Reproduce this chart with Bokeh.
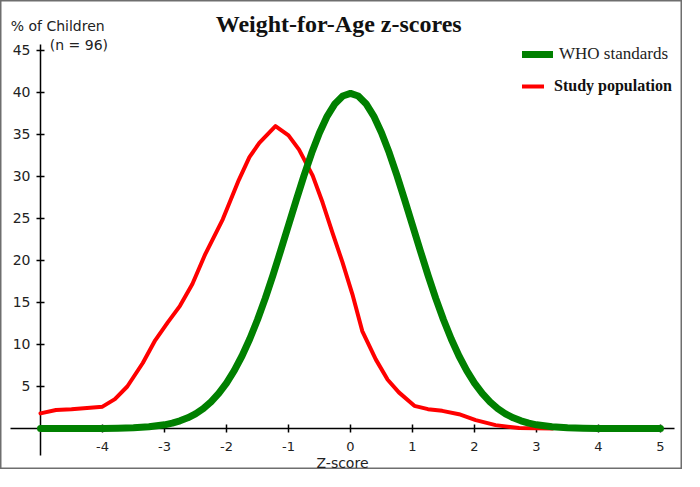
from bokeh.plotting import figure
from bokeh.models import Range1d, LinearAxis, FixedTicker, Label, Legend, LegendItem
from bokeh.embed import file_html
from bokeh.resources import INLINE

# ---- data ----
who_z = [-5.0, -4.5, -4.0, -3.75, -3.5, -3.25, -3.0, -2.875, -2.75, -2.625, -2.5,
         -2.375, -2.25, -2.125, -2.0, -1.875, -1.75, -1.625, -1.5, -1.375, -1.25,
         -1.125, -1.0, -0.875, -0.75, -0.625, -0.5, -0.375, -0.25, -0.125, 0.0,
         0.125, 0.25, 0.375, 0.5, 0.625, 0.75, 0.875, 1.0, 1.125, 1.25, 1.375, 1.5,
         1.625, 1.75, 1.875, 2.0, 2.125, 2.25, 2.375, 2.5, 2.625, 2.75, 2.875, 3.0,
         3.25, 3.5, 3.75, 4.0, 4.5, 5.0]
who_pct = [0.0, 0.0, 0.01, 0.04, 0.09, 0.2, 0.44, 0.64, 0.91, 1.27, 1.75,
           2.37, 3.17, 4.17, 5.4, 6.88, 8.63, 10.66, 12.95, 15.49, 18.26,
           21.2, 24.2, 27.19, 30.11, 32.82, 35.21, 37.19, 38.67, 39.58, 39.89,
           39.58, 38.67, 37.19, 35.21, 32.82, 30.11, 27.19, 24.2, 21.2, 18.26, 15.49, 12.95,
           10.66, 8.63, 6.88, 5.4, 4.17, 3.17, 2.37, 1.75, 1.27, 0.91, 0.64, 0.44,
           0.2, 0.09, 0.04, 0.01, 0.0, 0.0]

study_z = [-5.0, -4.75, -4.5, -4.0, -3.8, -3.6, -3.35, -3.15, -2.95, -2.75, -2.55,
           -2.34, -2.06, -1.8, -1.63, -1.47, -1.21, -1.0, -0.83, -0.61, -0.45, -0.29,
           -0.13, 0.03, 0.19, 0.41, 0.6, 0.78, 1.03, 1.25, 1.48, 1.75, 2.02, 2.34,
           2.72, 3.26]
study_pct = [1.8, 2.2, 2.3, 2.6, 3.5, 5.0, 7.8, 10.5, 12.6, 14.6, 17.2,
             20.8, 24.9, 29.6, 32.3, 34.0, 36.0, 34.9, 33.2, 30.1, 26.9, 23.3,
             19.8, 16.0, 11.6, 8.2, 5.8, 4.3, 2.7, 2.3, 2.1, 1.7, 1.0, 0.4,
             0.05, 0.0]

x_ticks = [-4, -3, -2, -1, 0, 1, 2, 3, 4, 5]
x_tick_labels = ["-4", "-3", "-2", "-1", "0", "1", "2", "3", "4", "5"]
y_ticks = [5, 10, 15, 20, 25, 30, 35, 40, 45]
y_tick_labels = ["5", "10", "15", "20", "25", "30", "35", "40", "45"]

title_text = "Weight-for-Age z-scores"
y_label_1 = "% of Children"
y_label_2 = "(n = 96)"
x_label = "Z-score"
series_names = ["WHO standards", "Study population"]

SANS = "DejaVu Sans"
SERIF = "Liberation Serif"

W, H = 682, 469
p = figure(width=W, height=H, output_backend="svg", toolbar_location=None,
           x_axis_type=None, y_axis_type=None,
           x_range=Range1d(-5.645, 5.355), y_range=Range1d(-4.881, 50.952),
           min_border=0, min_border_left=0, min_border_right=0,
           min_border_top=0, min_border_bottom=0)
p.background_fill_color = "white"
p.border_fill_color = "white"
p.outline_line_color = "#6e6e6e"
p.outline_line_width = 2

# axes crossing at (-5, 0)
xaxis = LinearAxis(fixed_location=0, bounds=(-5.48, 5.23),
                   ticker=FixedTicker(ticks=x_ticks),
                   major_label_overrides={t: l for t, l in zip(x_ticks, x_tick_labels)},
                   axis_label=x_label, axis_label_standoff=0,
                   axis_label_text_font=SANS, axis_label_text_font_size="14px",
                   axis_label_text_font_style="normal", axis_label_text_color="#222222",
                   major_label_text_font=SANS, major_label_text_font_size="13px",
                   major_label_text_color="#222222", major_label_standoff=10,
                   axis_line_color="black", axis_line_width=1.5,
                   major_tick_line_color="black", major_tick_line_width=1.5,
                   major_tick_in=4, major_tick_out=4,
                   minor_tick_line_color=None)
xaxis.level = "underlay"
p.add_layout(xaxis, "below")

yaxis = LinearAxis(fixed_location=-5, bounds=(-3.2, 45.7),
                   ticker=FixedTicker(ticks=y_ticks),
                   major_label_overrides={t: l for t, l in zip(y_ticks, y_tick_labels)},
                   major_label_text_font=SANS, major_label_text_font_size="14px",
                   major_label_text_color="#222222", major_label_standoff=6,
                   axis_line_color="black", axis_line_width=1.5,
                   major_tick_line_color="black", major_tick_line_width=1.5,
                   major_tick_in=4, major_tick_out=4,
                   minor_tick_line_color=None)
yaxis.level = "underlay"
p.add_layout(yaxis, "left")

# curves
r_study = p.line(study_z, study_pct, line_color="#ff0000", line_width=4,
                 line_join="round", line_cap="round")
r_who = p.line(who_z, who_pct, line_color="#008000", line_width=7,
               line_join="round", line_cap="round")

# texts
p.add_layout(Label(x=-0.19, y=48.1, text=title_text, text_font=SERIF,
                   text_font_size="24px", text_font_style="bold",
                   text_align="center", text_baseline="middle", text_color="#111111"))
p.add_layout(Label(x=-5.48, y=47.9, text=y_label_1, text_font=SANS,
                   text_font_size="14px", text_align="left", text_baseline="middle",
                   text_color="#222222"))
p.add_layout(Label(x=-4.85, y=45.6, text=y_label_2, text_font=SANS,
                   text_font_size="14px", text_align="left", text_baseline="middle",
                   text_color="#222222"))

# legends (one per item, since the two labels use different styles)
leg1 = Legend(items=[LegendItem(label=series_names[0], renderers=[r_who])],
              location=(522, 405), padding=0, margin=0, spacing=0,
              glyph_width=31, glyph_height=20, label_height=20, label_standoff=6,
              label_text_font=SERIF, label_text_font_size="17px",
              label_text_font_style="normal", label_text_color="#222222",
              border_line_color=None, background_fill_alpha=0)
leg2 = Legend(items=[LegendItem(label=series_names[1], renderers=[r_study])],
              location=(522, 373), padding=0, margin=0, spacing=0,
              glyph_width=22, glyph_height=20, label_height=20, label_standoff=10,
              label_text_font=SERIF, label_text_font_size="16px",
              label_text_font_style="bold", label_text_color="#111111",
              border_line_color=None, background_fill_alpha=0)
p.add_layout(leg1, "center")
p.add_layout(leg2, "center")

open("out.html", "w").write(file_html(p, INLINE))
